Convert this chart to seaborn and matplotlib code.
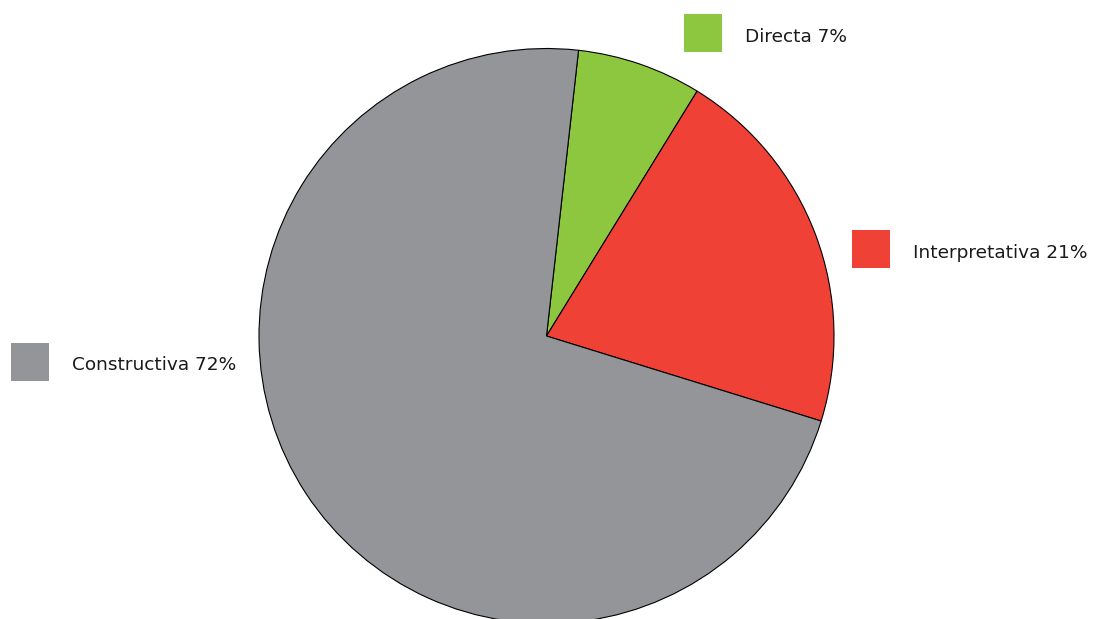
import matplotlib
matplotlib.use("Agg")
import matplotlib.pyplot as plt
import seaborn as sns
from matplotlib.patches import Rectangle

# data
labels = ['Directa', 'Interpretativa', 'Constructiva']
shares = [7, 21, 72]
colors = ['#8dc63f', '#ef4136', '#939598']

sns.set_theme(style='white')
plt.rcParams['font.family'] = ['DejaVu Sans']

W, H = 1093, 619
fig = plt.figure(figsize=(W / 100, H / 100), dpi=100)
ax = fig.add_axes([0, 0, 1, 1])
ax.set_aspect('equal')
ax.axis('off')

ax.pie(shares, colors=colors, startangle=83.6, counterclock=False,
       center=(546.5, H - 336), radius=287.5,
       wedgeprops=dict(edgecolor='black', linewidth=0.8))
ax.set_xlim(0, W)
ax.set_ylim(0, H)

# label boxes (top-left corner of square, in pixels)
spots = [(684, 14), (852, 230), (11, 343)]
for lab, val, col, (x, y) in zip(labels, shares, colors, spots):
    ax.add_patch(Rectangle((x, H - y - 38), 38, 38, facecolor=col, edgecolor='none'))
    ax.text(x + 61, H - y - 27.5, f'{lab} {val}%', fontsize=13.3, va='baseline',
            ha='left', color='#1a1a1a')

fig.savefig('out.png', dpi=100)
